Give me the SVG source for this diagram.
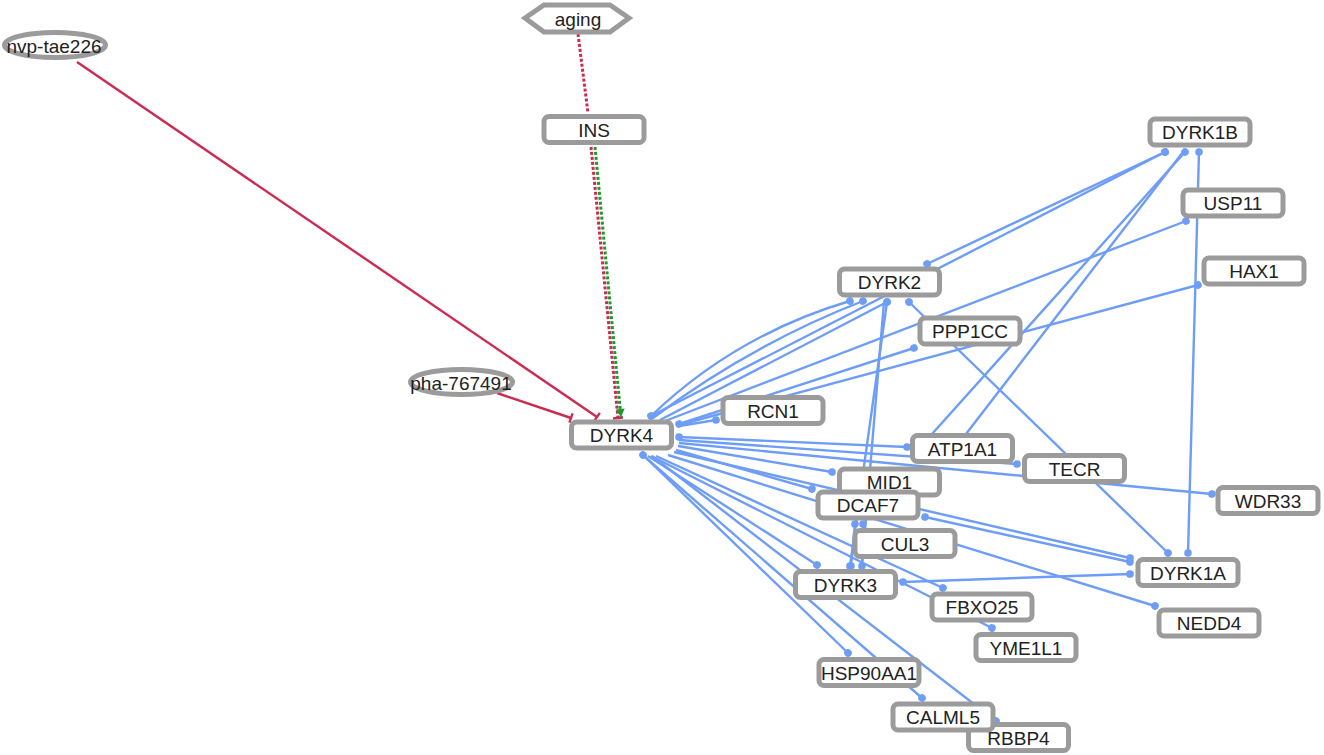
<svg xmlns="http://www.w3.org/2000/svg" width="1324" height="755" viewBox="0 0 1324 755">
<style>
.n rect,.n ellipse,.n polygon{fill:#fff;stroke:#9b9b9b;stroke-width:5}
.n rect{rx:5;ry:5}
.n text{font-family:"Liberation Sans",Arial,sans-serif;font-size:19px;fill:#222;text-anchor:middle;dominant-baseline:central}
.b{fill:none;stroke:#6e9df7;stroke-width:2.4}
.r{fill:none;stroke:#cc2a50;stroke-width:2.4}
.rd{fill:none;stroke:#cc2a50;stroke-width:3;stroke-dasharray:3 2}
.gd{fill:none;stroke:#1f9a2a;stroke-width:3;stroke-dasharray:3 2}
.e{marker-end:url(#dot)}
.s{marker-start:url(#dot)}
</style>
<defs>
<marker id="dot" markerUnits="userSpaceOnUse" markerWidth="10" markerHeight="10" viewBox="-5 -5 10 10" refX="0" refY="0" orient="auto">
<circle r="3.8" fill="#6e9df7"/>
</marker>
<marker id="tbar" markerUnits="userSpaceOnUse" markerWidth="12" markerHeight="12" viewBox="-6 -6 12 12" refX="0" refY="0" orient="auto">
<path d="M0,-5 L0,5" stroke="#cc2a50" stroke-width="2.4" fill="none"/>
</marker>
<marker id="garrow" markerUnits="userSpaceOnUse" markerWidth="12" markerHeight="12" viewBox="-10 -6 12 12" refX="0" refY="0" orient="auto">
<path d="M-8,-4.5 L0,0 L-8,4.5 Z" fill="#1f9a2a"/>
</marker>
</defs>
<rect width="1324" height="755" fill="#fff"/>
<g id="connectors">
<path class="r" d="M77,62 L597,417" marker-end="url(#tbar)"/>
<path class="r" d="M497,393 L571,418" marker-end="url(#tbar)"/>
<path class="rd" d="M578,34 L588,113"/>
<path class="rd" d="M591,147 L618,418" marker-end="url(#tbar)"/>
<path class="gd" d="M595,147 L621,417" marker-end="url(#garrow)"/>
<path class="b e" d="M650,417 Q735,335 850,301"/>
<path class="b e" d="M653,418 Q750,345 863,301"/>
<path class="b s" d="M887,302 L660,420"/>
<path class="b s e" d="M651,416 L1165,152"/>
<path class="b s e" d="M1165,152 L927,264"/>
<path class="b s" d="M1186,221 L665,421"/>
<path class="b s" d="M1198,285 L679,425"/>
<path class="b s e" d="M679,424 L914,348"/>
<path class="b e" d="M679,426 L716,420"/>
<path class="b s e" d="M679,437 L907,447"/>
<path class="b e" d="M679,440 L1017,464"/>
<path class="b e" d="M679,443 L1212,494"/>
<path class="b e" d="M678,446 L832,472"/>
<path class="b e" d="M676,450 L812,489"/>
<path class="b e" d="M674,452 L1130,558"/>
<path class="b s e" d="M925,517 L1130,562"/>
<path class="b s e" d="M1130,574 L903,582"/>
<path class="b e" d="M668,455 L1155,606"/>
<path class="b e" d="M656,456 L943,588"/>
<path class="b e" d="M651,456 L992,628"/>
<path class="b e" d="M648,456 L817,565"/>
<path class="b s e" d="M643,455 L848,653"/>
<path class="b e" d="M645,457 L922,698"/>
<path class="b e" d="M652,456 L996,721"/>
<path class="b s e" d="M887,302 L850,566"/>
<path class="b e" d="M884,302 L862,566"/>
<path class="b s e" d="M855,524 L851,566"/>
<path class="b s" d="M863,524 L862,566"/>
<path class="b s e" d="M909,302 L1168,553"/>
<path class="b s e" d="M1199,152 L1188,553"/>
<path class="b s" d="M1185,152 L932,434"/>
<path class="b" d="M1183,152 L966,434"/>
</g>
<g id="node-aging" class="n"><polygon points="525,18 544,5 610,5 629,18 610,32 544,32"/><text x="578" y="19">aging</text></g>
<g id="node-nvp-tae226" class="n"><ellipse cx="55" cy="45" rx="50.5" ry="12.5"/><text x="54" y="46">nvp-tae226</text></g>
<g id="node-pha-767491" class="n"><ellipse cx="461.5" cy="382" rx="51" ry="12.5"/><text x="461" y="383">pha-767491</text></g>
<g id="node-INS" class="n"><rect x="544" y="116.5" width="100" height="26"/><text x="594" y="130">INS</text></g>
<g id="node-DYRK4" class="n"><rect x="571.5" y="422" width="100" height="26"/><text x="621.5" y="435.5">DYRK4</text></g>
<g id="node-DYRK1B" class="n"><rect x="1150" y="119" width="100" height="26"/><text x="1200" y="132.5">DYRK1B</text></g>
<g id="node-USP11" class="n"><rect x="1183" y="190" width="100" height="26"/><text x="1233" y="203.5">USP11</text></g>
<g id="node-HAX1" class="n"><rect x="1204" y="258" width="100" height="26"/><text x="1254" y="271.5">HAX1</text></g>
<g id="node-DYRK2" class="n"><rect x="839.5" y="269" width="100" height="26"/><text x="889.5" y="282.5">DYRK2</text></g>
<g id="node-PPP1CC" class="n"><rect x="920" y="318" width="100" height="26"/><text x="970" y="331.5">PPP1CC</text></g>
<g id="node-RCN1" class="n"><rect x="723" y="397.5" width="100" height="26"/><text x="773" y="411">RCN1</text></g>
<g id="node-ATP1A1" class="n"><rect x="912.5" y="435.5" width="100" height="26"/><text x="962.5" y="449">ATP1A1</text></g>
<g id="node-TECR" class="n"><rect x="1024.5" y="455.5" width="100" height="26"/><text x="1074.5" y="469">TECR</text></g>
<g id="node-WDR33" class="n"><rect x="1218" y="487.5" width="100" height="26"/><text x="1268" y="501">WDR33</text></g>
<g id="node-MID1" class="n"><rect x="839.5" y="469" width="100" height="26"/><text x="889.5" y="482.5">MID1</text></g>
<g id="node-DCAF7" class="n"><rect x="818" y="492" width="100" height="26"/><text x="868" y="505.5">DCAF7</text></g>
<g id="node-CUL3" class="n"><rect x="855" y="530.5" width="100" height="26"/><text x="905" y="544">CUL3</text></g>
<g id="node-DYRK1A" class="n"><rect x="1138" y="559.5" width="100" height="26"/><text x="1188" y="573">DYRK1A</text></g>
<g id="node-DYRK3" class="n"><rect x="795.5" y="571.5" width="100" height="26"/><text x="845.5" y="585">DYRK3</text></g>
<g id="node-FBXO25" class="n"><rect x="932" y="594" width="100" height="26"/><text x="982" y="607.5">FBXO25</text></g>
<g id="node-NEDD4" class="n"><rect x="1159" y="610" width="100" height="26"/><text x="1209" y="623.5">NEDD4</text></g>
<g id="node-YME1L1" class="n"><rect x="976" y="634.5" width="100" height="26"/><text x="1026" y="648">YME1L1</text></g>
<g id="node-HSP90AA1" class="n"><rect x="819" y="659.5" width="100" height="26"/><text x="869" y="673">HSP90AA1</text></g>
<g id="node-RBBP4" class="n"><rect x="968.5" y="724.5" width="100" height="26"/><text x="1018.5" y="738">RBBP4</text></g>
<g id="node-CALML5" class="n"><rect x="893" y="704" width="100" height="26"/><text x="943" y="717.5">CALML5</text></g>
</svg>
